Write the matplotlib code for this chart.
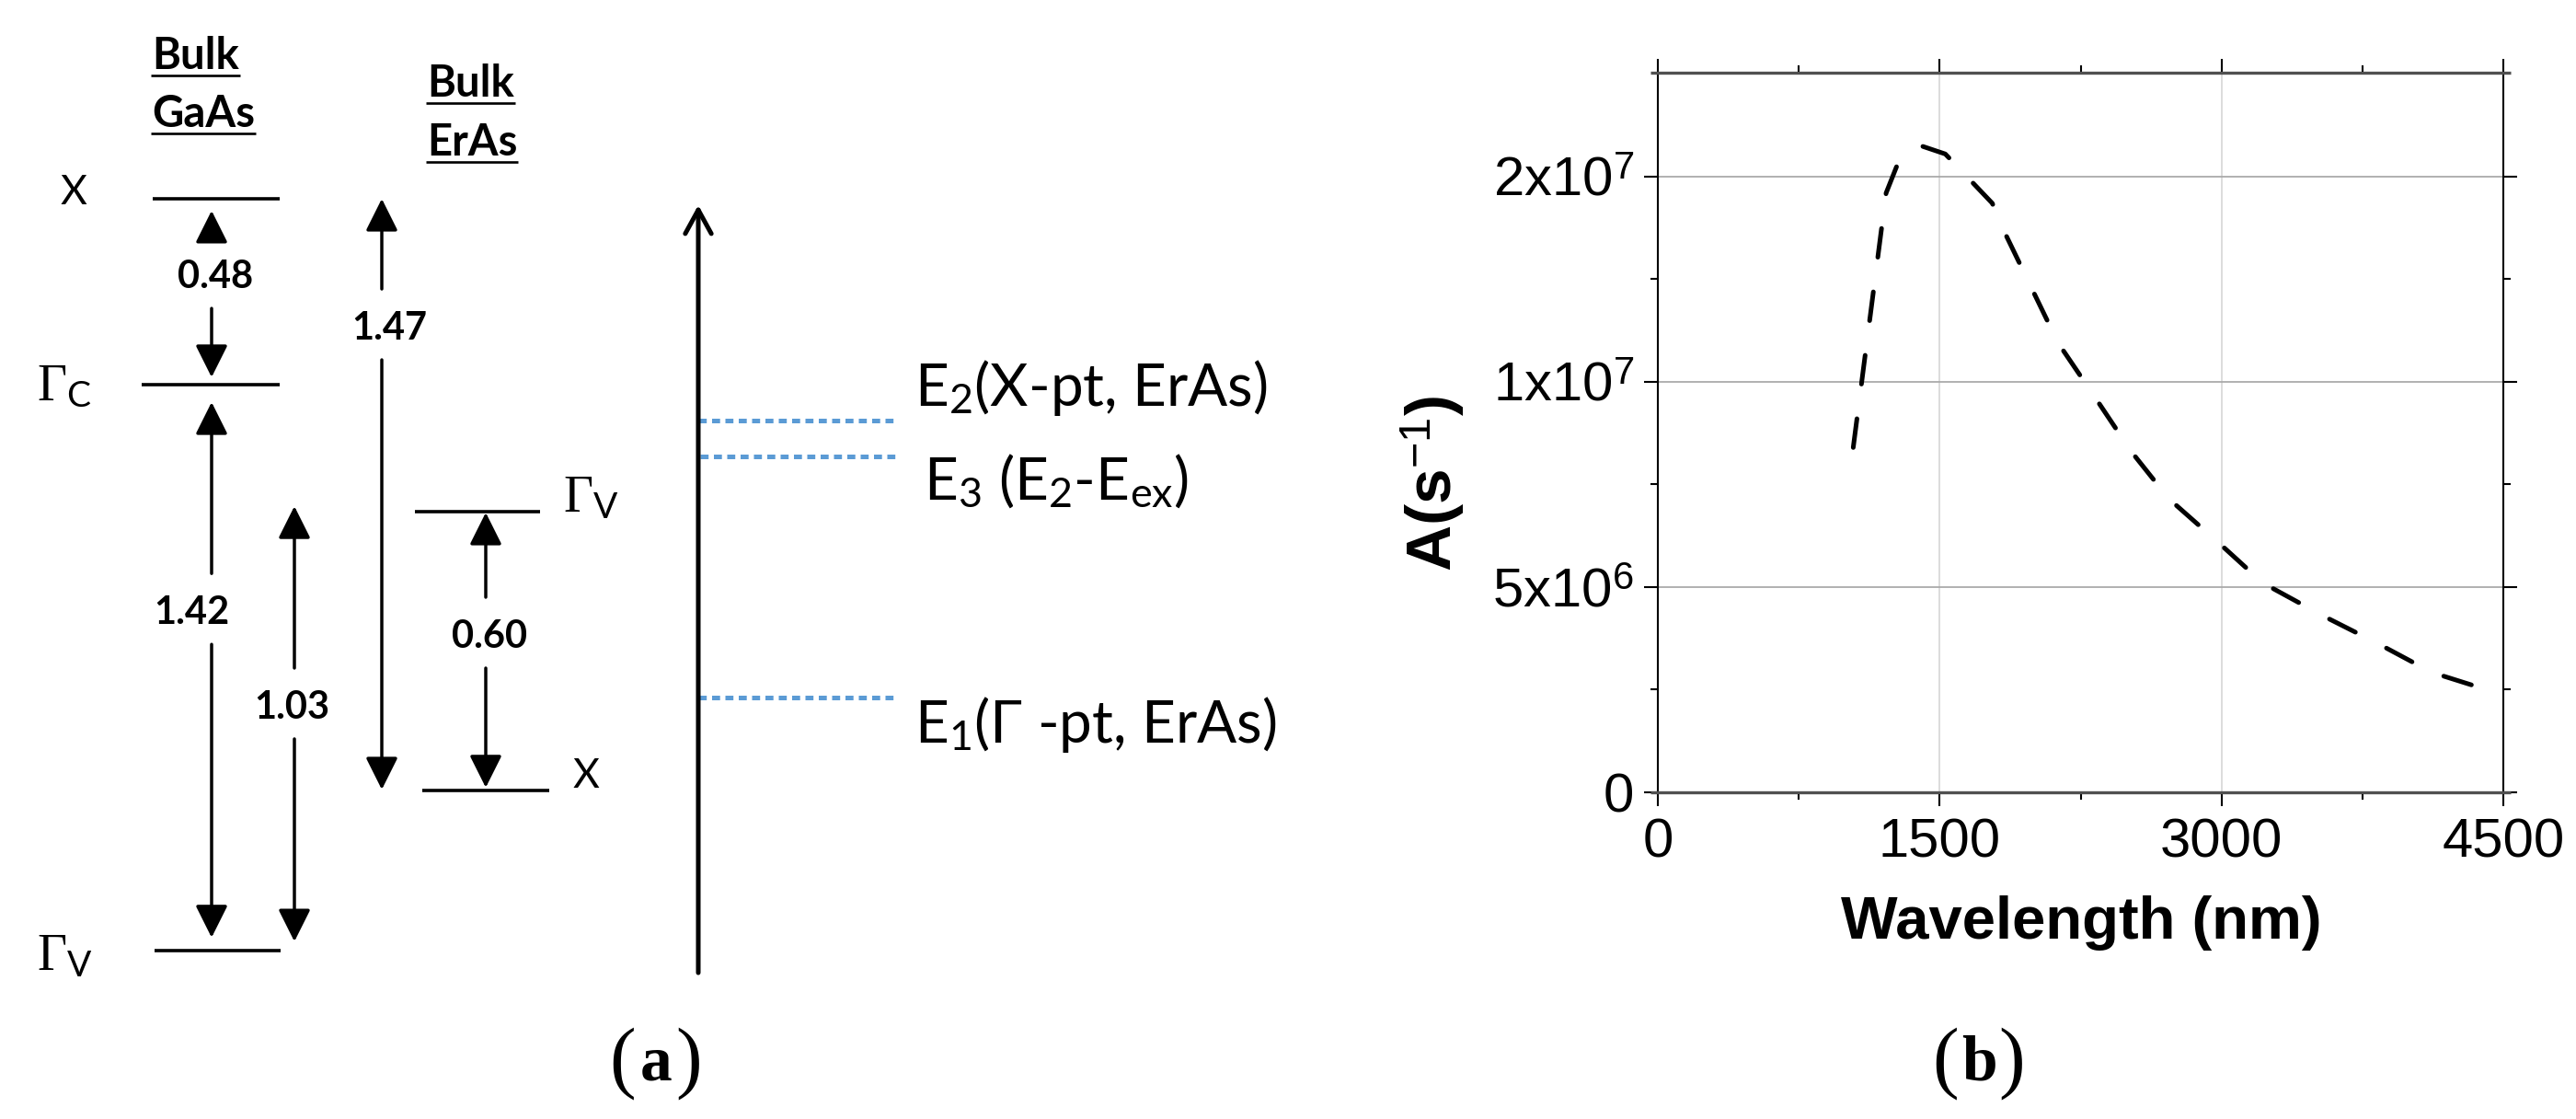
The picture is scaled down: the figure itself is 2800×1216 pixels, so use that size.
import matplotlib
matplotlib.use("Agg")
import matplotlib.pyplot as plt
import numpy as np

# ---------------- data : panel (a) energy diagram (eV, as drawn, relative to GaAs Gamma_v) -------------
gaas_level_names = [r"$\Gamma_{\mathtt{V}}$", r"$\Gamma_{\mathtt{C}}$", "X"]
gaas_level_E = [0.0, 1.43, 1.90]
eras_level_names = ["X", r"$\Gamma_{\mathtt{V}}$"]
eras_level_E = [0.405, 1.11]

gap_labels = ["0.48", "1.42", "1.03", "1.47", "0.60"]
gap_top_E = [1.870, 1.386, 1.123, 1.900, 1.107]
gap_bottom_E = [1.449, 0.033, 0.023, 0.407, 0.412]
gap_label_E = [1.709, 0.860, 0.621, 1.579, 0.800]

state_labels = [r"$\mathtt{E}_{\mathtt{2}}$(X-pt, ErAs)",
                r"$\mathtt{E}_{\mathtt{3}}$ ($\mathtt{E}_{\mathtt{2}}$-$\mathtt{E}_{\mathtt{ex}}$)",
                r"$\mathtt{E}_{\mathtt{1}}$(Γ -pt, ErAs)"]
state_E = [1.340, 1.249, 0.640]
axis_E = [-0.056, 1.884]

# ---------------- data : panel (b) -------------
wavelength_nm = [1040, 1215, 1280, 1400, 1530, 1780, 1850, 2130, 2330, 2520,
                 2720, 2980, 3220, 3540, 3830, 4120, 4495]
A_rate = [8.4e6, 1.46e7, 1.535e7, 1.575e7, 1.555e7, 1.435e7, 1.36e7, 1.095e7, 9.6e6, 8.3e6,
          7.15e6, 6.1e6, 5.1e6, 4.3e6, 3.63e6, 2.92e6, 2.38e6]
x_ticks = [0, 1500, 3000, 4500]
x_tick_labels = ["0", "1500", "3000", "4500"]
x_minor = [750, 2250, 3750]
y_ticks = [0, 5e6, 1e7, 1.5e7]
y_tick_labels = ["0", r"5x10$^{\mathsf{6}}$", r"1x10$^{\mathsf{7}}$", r"2x10$^{\mathsf{7}}$"]
y_minor = [2.5e6, 7.5e6, 1.25e7]

# ---------------- style ----------------
plt.rcParams['font.family'] = ['Liberation Sans', 'DejaVu Sans']
plt.rcParams['mathtext.fontset'] = 'custom'
plt.rcParams['mathtext.rm'] = 'Liberation Serif'
plt.rcParams['mathtext.it'] = 'Liberation Serif:italic'
plt.rcParams['mathtext.bf'] = 'Liberation Serif:bold'
plt.rcParams['mathtext.sf'] = 'Liberation Sans'
plt.rcParams['mathtext.tt'] = 'Lato'

W, H = 2800, 1216
fig = plt.figure(figsize=(W / 100, H / 100), dpi=100)
fig.patch.set_facecolor('white')

# ---------- panel (a) ----------
PX_PER_EV = 430.0
Y0 = 1033.0


def ey(px):
    """pixel row (from top) -> energy coordinate of the diagram"""
    return (Y0 - px) / PX_PER_EV


axa = fig.add_axes([0, 0, 1, 1])
axa.set_xlim(0, W)
axa.set_ylim(ey(H), ey(0))
axa.axis('off')

LAB = ['Lato', 'DejaVu Sans']
lw_level = 2.6

# level lines
gaas_x = [(168, 305), (154, 304), (166, 304)]
for (x0, x1), e in zip(gaas_x, gaas_level_E):
    axa.plot([x0, x1], [e, e], color='k', lw=lw_level, solid_capstyle='butt')
eras_x = [(459, 597), (451, 587)]
for (x0, x1), e in zip(eras_x, eras_level_E):
    axa.plot([x0, x1], [e, e], color='k', lw=lw_level, solid_capstyle='butt')

# level labels
sub_gam = 40
gaas_lab_pos = [(40, 1054, 'left'), (40, 435, 'left'), (80, 222, 'center')]
for name, (lx, lb, ha) in zip(gaas_level_names, gaas_lab_pos):
    fs = 32 if name == "X" else sub_gam
    axa.text(lx, ey(lb), name, fontsize=fs, family=LAB, ha=ha, va='baseline')
eras_lab_pos = [(623, 856), (612, 556)]
for name, (lx, lb) in zip(eras_level_names, eras_lab_pos):
    fs = 32 if name == "X" else sub_gam
    axa.text(lx, ey(lb), name, fontsize=fs, family=LAB, ha='left', va='baseline')

# gap arrows with labels
gap_x = [230, 230, 320, 415, 528]
gap_lx = [234, 208, 317, 423, 532]
g_up = 40 / PX_PER_EV
g_dn = 37 / PX_PER_EV
head = dict(arrowstyle='-|>,head_length=0.72,head_width=0.36', mutation_scale=30,
            lw=2.5, color='k', shrinkA=0, shrinkB=0)
for lab, x, lx, et, eb, el in zip(gap_labels, gap_x, gap_lx, gap_top_E, gap_bottom_E, gap_label_E):
    axa.annotate('', xy=(x, et), xytext=(x, el + g_up), arrowprops=head)
    axa.annotate('', xy=(x, eb), xytext=(x, el - g_dn), arrowprops=head)
    axa.text(lx, el - 15 / PX_PER_EV, lab, fontsize=30, fontweight='bold', family=LAB,
             ha='center', va='baseline')

# headers
hdr = [("Bulk", 165, 75), ("GaAs", 165, 138), ("Bulk", 464, 105), ("ErAs", 464, 169)]
hdr_txt = []
for s, hx, hb in hdr:
    t = axa.text(hx, ey(hb), s, fontsize=34, fontweight='bold', family=LAB,
                 ha='left', va='baseline')
    hdr_txt.append((t, hb))

# energy axis
AX_X = 759
axa.annotate('', xy=(AX_X, axis_E[1]), xytext=(AX_X, axis_E[0]),
             arrowprops=dict(arrowstyle='->,head_length=0.62,head_width=0.34', mutation_scale=30,
                             lw=3.6, color='k', shrinkA=0, shrinkB=0))

# impurity states
state_x = [(759, 975), (761, 977), (759, 975)]
state_lab = [(994, 441), (1004, 543), (994, 807)]
for (x0, x1), e, s, (tx, tb) in zip(state_x, state_E, state_labels, state_lab):
    axa.plot([x0, x1], [e, e], color='#5B9BD5', lw=3.6, dashes=(1.74, 1.16),
             solid_capstyle='butt', dash_capstyle='butt')
    axa.text(tx, ey(tb), s, fontsize=46, family=LAB, ha='left', va='baseline')

# ---------- panel (b) ----------
L, R, T, B = 1802, 2721, 79, 861
axb = fig.add_axes([L / W, 1 - B / H, (R - L) / W, (B - T) / H])
axb.plot(wavelength_nm, A_rate, color='k', lw=3.6, dashes=(6.3, 7.6), dash_capstyle='round',
         zorder=4)
axb.set_xlim(0, 4500)
axb.set_ylim(0, 1.753e7)
axb.set_xticks(x_ticks)
axb.set_xticklabels(x_tick_labels)
axb.set_xticks(x_minor, minor=True)
axb.set_yticks(y_ticks)
axb.set_yticklabels(y_tick_labels)
axb.set_yticks(y_minor, minor=True)
axb.tick_params(which='major', direction='out', length=10.8, width=1.5, top=True, right=True,
                labelsize=43, color='k')
axb.tick_params(which='minor', direction='out', length=5.8, width=1.5, top=True, right=True)
axb.tick_params(axis='x', which='major', pad=9)
axb.tick_params(axis='y', which='major', pad=8)
axb.grid(axis='x', which='major', color='#d9d9d9', lw=1.3)
axb.grid(axis='y', which='major', color='#aaaaaa', lw=1.3)
axb.set_axisbelow(True)
for side in ['top', 'bottom']:
    axb.spines[side].set_visible(False)
for side in ['left', 'right']:
    axb.spines[side].set_linewidth(1.5)
    axb.spines[side].set_color('k')
for yy in (0, 1):
    axb.plot([-0.009, 1.009], [yy, yy], transform=axb.transAxes, color='#505050', lw=2.4,
             clip_on=False, zorder=5, solid_capstyle='butt')

fig.text(1557 / W, 1 - 525 / H, r"A(s$^{\mathsf{-1}}$)", rotation=90, fontsize=50,
         fontweight='bold', ha='center', va='center')
fig.text(2262 / W, 1 - 1020 / H, "Wavelength (nm)", fontsize=47, fontweight='bold',
         ha='center', va='baseline')

# panel letters
for cx, letter in [(713, 'a'), (2151, 'b')]:
    fig.text((cx - 36) / W, 1 - 1176 / H, "(", fontsize=62, family='Liberation Serif',
             ha='center', va='baseline')
    fig.text((cx + 36) / W, 1 - 1176 / H, ")", fontsize=62, family='Liberation Serif',
             ha='center', va='baseline')
    fig.text(cx / W, 1 - 1173 / H, letter, fontsize=50, family='Liberation Serif',
             fontweight='bold', ha='center', va='baseline')

# underline headers
fig.canvas.draw()
inv = axa.transData.inverted()
for t, hb in hdr_txt:
    bb = t.get_window_extent()
    x0 = inv.transform((bb.x0, 0))[0]
    x1 = inv.transform((bb.x1, 0))[0]
    axa.plot([x0 - 1, x1 + 1], [ey(hb + 7), ey(hb + 7)], color='k', lw=1.9,
             solid_capstyle='butt')

fig.savefig("out.png", dpi=100, facecolor='white')
